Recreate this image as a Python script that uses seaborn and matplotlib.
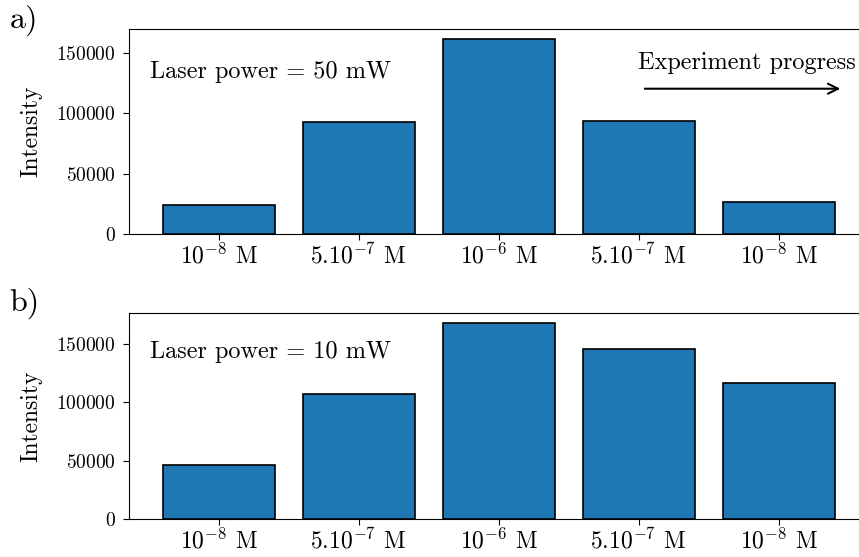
import numpy as np
import pandas as pd
import seaborn as sns
import matplotlib.pyplot as plt

# Data
labels = [r'$10^{-8}$ M', r'$5.10^{-7}$ M', r'$10^{-6}$ M', r'$5.10^{-7}$ M', r'$10^{-8}$ M']
intensity_50mw = [24400, 92300, 161400, 93900, 26400]
intensity_10mw = [46000, 107000, 168300, 145500, 116400]
panel_letters = ['a)', 'b)']
power_texts = ['Laser power = 50 mW', 'Laser power = 10 mW']

plt.rcParams['font.family'] = ['cmr10', 'DejaVu Serif']
plt.rcParams['mathtext.fontset'] = 'cm'
plt.rcParams['axes.unicode_minus'] = False
plt.rcParams['axes.formatter.use_mathtext'] = True

fig = plt.figure(figsize=(8.59, 5.57), dpi=100)
ax_a = fig.add_axes([0.1502, 0.5794, 0.8605, 0.3686])
ax_b = fig.add_axes([0.1502, 0.0682, 0.8605, 0.3698])

text_y = [0.79, 0.812]
for ax, vals, txt, ty in zip([ax_a, ax_b], [intensity_50mw, intensity_10mw], power_texts, text_y):
    df = pd.DataFrame({'pos': np.arange(len(vals)), 'Intensity': vals})
    sns.barplot(data=df, x='pos', y='Intensity', color='#1f77b4', saturation=1,
                edgecolor='black', linewidth=1.2, width=0.8, ax=ax)
    ax.set_xlim(-0.64, 4.64)
    ax.set_ylim(0, max(vals) * 1.05)
    ax.set_xticks(np.arange(len(vals)))
    ax.set_xticklabels(labels, fontsize=17)
    ax.set_xlabel('')
    ax.set_ylabel('Intensity', fontsize=17, labelpad=10)
    ax.tick_params(axis='y', labelsize=14, length=4.5, pad=5)
    ax.tick_params(axis='x', length=4.5, pad=2)
    ax.text(0.0284, ty, txt, transform=ax.transAxes, fontsize=17.5, ha='left', va='center')

fig.text(0.011, 0.963, panel_letters[0], fontsize=23, ha='left', va='center')
fig.text(0.011, 0.455, panel_letters[1], fontsize=23, ha='left', va='center')

# progress arrow on panel a
ax_a.text(0.689, 0.834, 'Experiment progress', transform=ax_a.transAxes, fontsize=17.5,
          ha='left', va='center')
ax_a.annotate('', xy=(0.966, 0.709), xytext=(0.694, 0.709), xycoords='axes fraction',
              arrowprops=dict(arrowstyle='->', color='black', lw=1.5, mutation_scale=18))

fig.savefig('out.png', dpi=100)
